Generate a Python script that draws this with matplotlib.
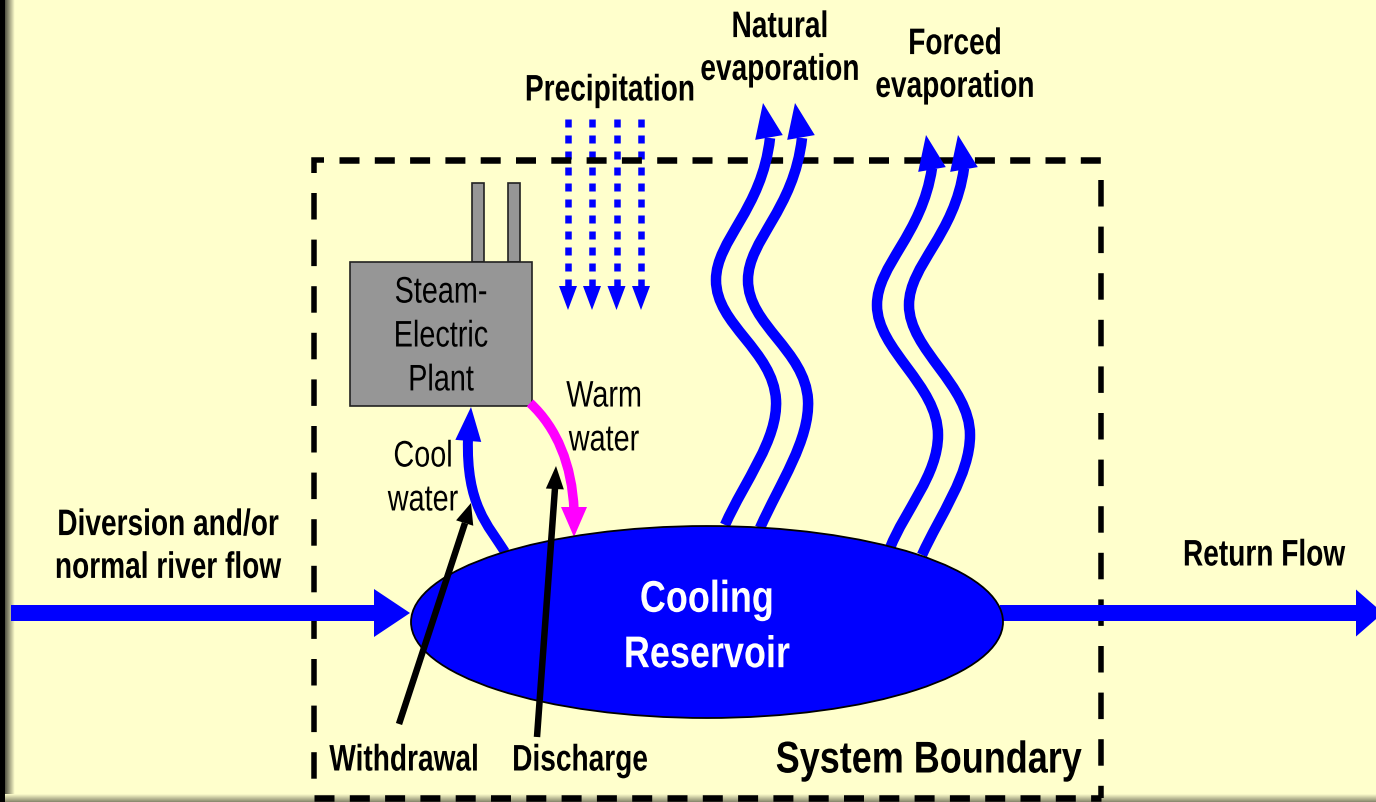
#! /usr/bin/python3
from matplotlib import pyplot as plt
from matplotlib.patches import Ellipse, Polygon, Rectangle, PathPatch
from matplotlib.path import Path
from matplotlib.patheffects import AbstractPathEffect
from matplotlib.text import Text
from matplotlib.transforms import Affine2D, Bbox
import numpy as np

BG = np.array([1.0, 1.0, 0.8])
BLUE = '#0000FF'
MAGENTA = '#FF00FF'
GREY = '#969696'

rain_x = [568, 592, 616.5, 641]
nat_1 = [(725, 525), (745, 480), (778, 440), (776, 400), (773, 350), (716, 325), (716, 280), (716, 240), (762, 210), (770, 138)]
nat_2 = [(760, 528), (780, 483), (810, 440), (808, 400), (805, 350), (748, 325), (748, 280), (748, 240), (794, 210), (802, 138)]
for_1 = [(890, 548), (905, 510), (938, 475), (938, 435), (938, 385), (877, 350), (877, 305), (877, 265), (922, 235), (932, 168)]
for_2 = [(922, 555), (940, 515), (970, 475), (970, 435), (970, 385), (909, 350), (909, 305), (909, 265), (955, 235), (964, 168)]
cool = [(505, 552), (488, 525), (466, 505), (468, 438)]
warm = [(530, 403), (557, 428), (572, 465), (574, 510)]

fig = plt.figure(figsize=(13.76, 8.02), dpi=100, facecolor=BG)
ax = fig.add_axes([0, 0, 1, 1])
ax.set_xlim(0, 1376)
ax.set_ylim(802, 0)
ax.axis('off')

PX = 0.72


class Condense(AbstractPathEffect):
    # squeeze glyphs sideways about cx, no narrow font is installed
    def __init__(self, cx, factor):
        super().__init__()
        self.cx = cx
        self.factor = factor

    def draw_path(self, renderer, gc, tpath, affine, rgbFace=None):
        squeeze = Affine2D().translate(-self.cx, 0).scale(self.factor, 1).translate(self.cx, 0)
        renderer.draw_path(gc, tpath, affine + squeeze, rgbFace)


class NarrowText(Text):
    # extent has to agree with the squeezed glyphs
    def get_window_extent(self, renderer=None, dpi=None):
        box = super().get_window_extent(renderer, dpi)
        eff = self.get_path_effects()[0]
        return Bbox.from_extents(eff.cx + (box.x0 - eff.cx) * eff.factor, box.y0,
                                 eff.cx + (box.x1 - eff.cx) * eff.factor, box.y1)


def head(tip, direction, color, width=26, length=30, z=5):
    d = np.array(direction, dtype=float)
    d = d / np.hypot(*d)
    n = np.array([-d[1], d[0]])
    t = np.array(tip, dtype=float)
    base = t - d * length
    ax.add_patch(Polygon([t, base + n * width / 2, base - n * width / 2],
                         closed=True, fc=color, ec='none', zorder=z))


def curve(pts, color, width, z=4):
    codes = [Path.MOVETO] + [Path.CURVE4] * (len(pts) - 1)
    ax.add_patch(PathPatch(Path(pts, codes), fc='none', ec=color, lw=width * PX,
                           capstyle='butt', zorder=z))


def dashed(x0, y0, x1, y1, on, off, width):
    ax.plot([x0, x1], [y0, y1], color='black', lw=width * PX,
            dashes=(on / width, off / width), dash_capstyle='butt', zorder=3)


# slide frame
ax.add_patch(Rectangle((0, 0), 5, 802, fc='black', ec='none', zorder=1))
for i in range(10):
    ax.add_patch(Rectangle((5 + i, 0), 1, 802, fc=BG * (0.35 + i * 0.07), ec='none', zorder=1))
for i in range(8):
    ax.add_patch(Rectangle((5, 794 + i), 1371, 1, fc=BG * (0.97 - i * 0.06), ec='none', zorder=1))

# system boundary
dashed(339, 160, 1103, 160, 20, 15.3, 6.5)
dashed(314, 798, 1101, 798, 20, 15.3, 6.5)
dashed(314, 193, 314, 798, 26.5, 20.1, 5.5)
dashed(1101, 180, 1101, 798, 26.5, 20.1, 5.5)
ax.plot([314, 314, 324], [173, 160, 160], color='black', lw=5.5 * PX,
        solid_joinstyle='miter', solid_capstyle='butt', zorder=3)

# river in and out
ax.plot([11, 376], [613, 613], color=BLUE, lw=16 * PX, solid_capstyle='butt', zorder=4)
head((410, 613), (1, 0), BLUE, width=48, length=36, z=4)
ax.plot([1000, 1358], [613, 613], color=BLUE, lw=16 * PX, solid_capstyle='butt', zorder=4)
head((1383, 613), (1, 0), BLUE, width=47, length=27, z=4)

# plant
ax.add_patch(Rectangle((472, 183), 12, 79, fc=GREY, ec='#222222', lw=1.2, zorder=3))
ax.add_patch(Rectangle((508, 183), 12, 79, fc=GREY, ec='#222222', lw=1.2, zorder=3))
ax.add_patch(Rectangle((350, 262), 182, 144, fc=GREY, ec='#222222', lw=1.2, zorder=4))

# reservoir
ax.add_patch(Ellipse((707, 622), 592, 192, fc=BLUE, ec='black', lw=1.3, zorder=6))

# precipitation
for x in rain_x:
    ax.plot([x, x], [119, 287], color=BLUE, lw=6.5 * PX, dashes=(8 / 6.5, 8 / 6.5),
            dash_capstyle='butt', zorder=2)
    head((x, 310), (0, 1), BLUE, width=18, length=24, z=2)

# evaporation
for pts, tip in [(nat_1, (763, 103)), (nat_2, (795, 103)), (for_1, (926, 135)), (for_2, (958, 135))]:
    curve(pts, BLUE, 10.5)
    head(tip, (-0.17, -0.98), BLUE, width=28, length=35)

# cool and warm water
curve(cool, BLUE, 10)
head((471, 407), (0.08, -1), BLUE, width=26, length=34)
curve(warm, MAGENTA, 9.5)
head((574, 537), (0, 1), MAGENTA, width=26, length=30)

# pointers
ax.plot([399, 465], [724, 523], color='black', lw=6.5 * PX, solid_capstyle='butt', zorder=7)
head((471, 503), (0.3, -0.95), 'black', width=18, length=21, z=7)
ax.plot([537, 555], [737, 488], color='black', lw=6.5 * PX, solid_capstyle='butt', zorder=7)
head((556, 466), (0.05, -1), 'black', width=18, length=23, z=7)


def label(x, y, s, size=26.6, color='black', weight='bold', ls=1.29, squeeze=0.76):
    t = NarrowText(x, y, s, family='Liberation Sans', fontsize=size, color=color, weight=weight,
                   ha='center', va='center', linespacing=ls, zorder=8,
                   path_effects=[Condense(x, squeeze)])
    ax.add_artist(t)


label(610, 91, 'Precipitation')
label(780, 49, 'Natural\nevaporation')
label(955, 66, 'Forced\nevaporation')
label(168, 547, 'Diversion and/or\nnormal river flow')
label(1264, 556, 'Return Flow')
label(707, 628, 'Cooling\nReservoir', size=32, color='white', ls=1.45, squeeze=0.81)
label(404, 761, 'Withdrawal')
label(580, 761, 'Discharge')
label(929, 761, 'System Boundary', size=32, squeeze=0.81)
label(441, 337, 'Steam-\nElectric\nPlant', weight='normal', ls=1.33, squeeze=0.78)
label(604, 419, 'Warm\nwater', weight='normal', ls=1.33, squeeze=0.78)
label(423, 479, 'Cool\nwater', weight='normal', ls=1.33, squeeze=0.78)

fig.savefig('out.png', dpi=100, facecolor=BG)
